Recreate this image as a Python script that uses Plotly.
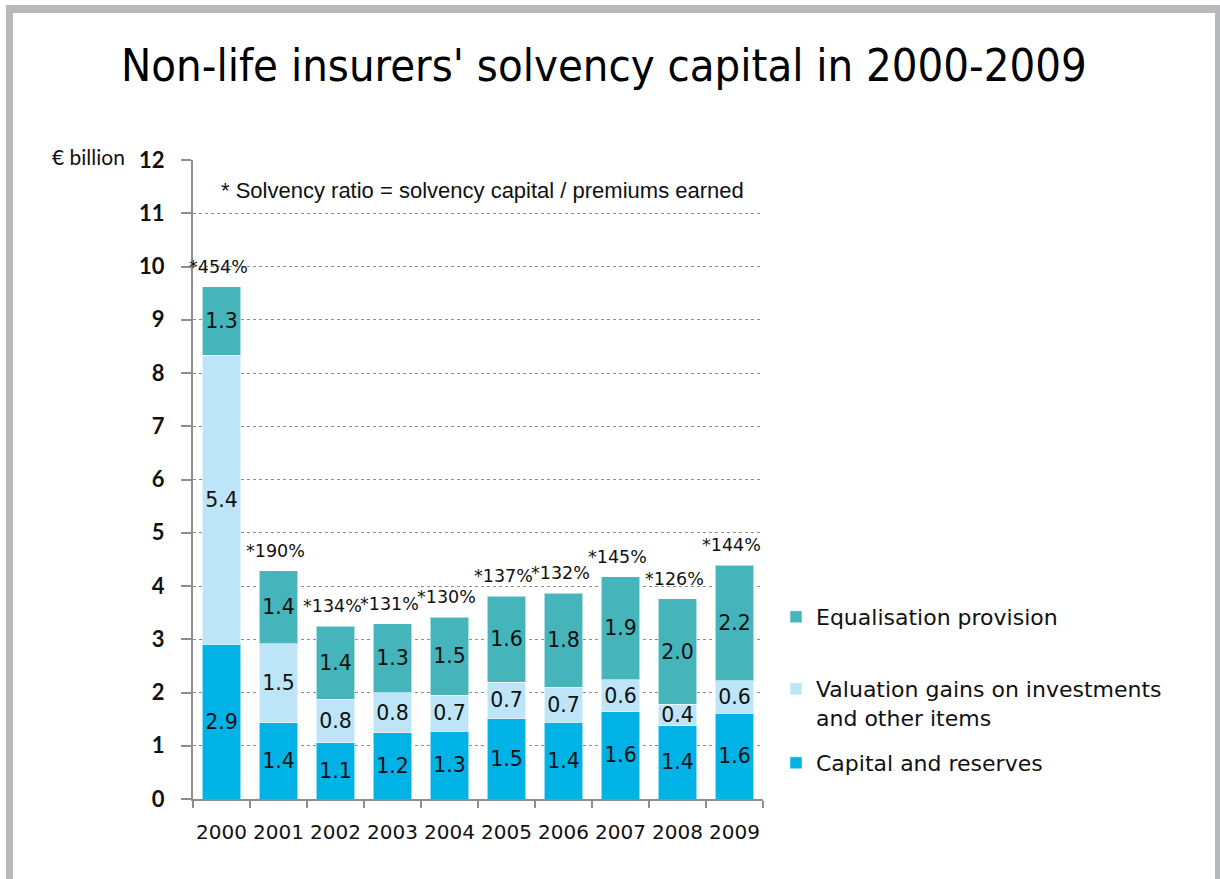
import plotly.graph_objects as go

years = ["2000", "2001", "2002", "2003", "2004", "2005", "2006", "2007", "2008", "2009"]
capital_reserves = [2.91, 1.43, 1.06, 1.24, 1.27, 1.51, 1.44, 1.64, 1.38, 1.61]
valuation_gains = [5.42, 1.49, 0.81, 0.76, 0.68, 0.68, 0.66, 0.60, 0.40, 0.61]
equalisation = [1.29, 1.37, 1.37, 1.29, 1.46, 1.62, 1.76, 1.93, 1.98, 2.17]
solvency_ratio = [454, 190, 134, 131, 130, 137, 132, 145, 126, 144]
y_ticks = list(range(0, 13))

C_CAP = "#00B2E6"
C_VAL = "#BDE5F7"
C_EQ = "#45B5BB"

W, H = 1220, 879
L, R, T, B = 193, 763, 160, 799  # plot area in px


def px(x):
    return (x - L) / (R - L)


def py(y):
    return (B - y) / (B - T)


fig = go.Figure()
common = dict(
    texttemplate="%{y:.1f}",
    textposition="inside",
    insidetextanchor="middle",
    textangle=0,
    textfont=dict(family="DejaVu Sans", size=20.5, color="#111111"),
    marker_line=dict(color="rgba(255,255,255,0.55)", width=1),
    hoverinfo="skip",
)
fig.add_trace(go.Bar(x=years, y=capital_reserves, name="Capital and reserves",
                     marker_color=C_CAP, legend="legend3", **common))
fig.add_trace(go.Bar(x=years, y=valuation_gains,
                     name="Valuation gains on investments<br>and other items",
                     marker_color=C_VAL, legend="legend2", **common))
fig.add_trace(go.Bar(x=years, y=equalisation, name="Equalisation provision",
                     marker_color=C_EQ, legend="legend", **common))

totals = [a + b + c for a, b, c in zip(capital_reserves, valuation_gains, equalisation)]
annotations = []
for i, (tot, r) in enumerate(zip(totals, solvency_ratio)):
    annotations.append(dict(x=i, y=tot, xref="x", yref="y", text=f"*{r}%",
                            showarrow=False, yanchor="bottom", yshift=8, xshift=-3,
                            font=dict(family="DejaVu Sans", size=17.5, color="#111111")))

annotations.append(dict(x=px(219), y=py(190), xref="paper", yref="paper",
                        text="* Solvency ratio = solvency capital / premiums earned",
                        showarrow=False, xanchor="left", yanchor="middle",
                        font=dict(family="Liberation Sans", size=22, color="#111111")))
annotations.append(dict(x=px(127), y=py(157), xref="paper", yref="paper",
                        text="€ billion", showarrow=False, xanchor="right", yanchor="middle",
                        font=dict(family="Lato", size=21, color="#111111")))

frame_col = "#B8B9BD"
shapes = [
    dict(type="rect", xref="paper", yref="paper", x0=px(6), x1=px(1220), y0=py(5), y1=py(13),
         fillcolor=frame_col, line_width=0, layer="below"),
    dict(type="rect", xref="paper", yref="paper", x0=px(6), x1=px(13), y0=py(5), y1=py(879),
         fillcolor=frame_col, line_width=0, layer="below"),
    dict(type="rect", xref="paper", yref="paper", x0=px(1215), x1=px(1220), y0=py(5), y1=py(879),
         fillcolor=frame_col, line_width=0, layer="below"),
]

leg_font = dict(family="DejaVu Sans", size=22, color="#111111")
leg_x = px(776)

fig.update_layout(
    width=W, height=H,
    margin=dict(l=L, r=W - R, t=T, b=H - B, pad=0),
    paper_bgcolor="white", plot_bgcolor="white",
    barmode="stack", bargap=0.333,
    title=dict(text="Non-life insurers' solvency capital in 2000-2009",
               x=0.495, xanchor="center", y=1 - 65 / H, yanchor="middle",
               font=dict(family="DejaVu Sans Condensed", size=45, color="#000000", weight=300)),
    uniformtext=dict(minsize=20.5, mode="show"),
    showlegend=True,
    legend=dict(x=leg_x, y=py(617), xanchor="left", yanchor="middle", font=leg_font,
                bgcolor="rgba(0,0,0,0)", itemwidth=30, valign="top"),
    legend2=dict(x=leg_x, y=py(703.5), xanchor="left", yanchor="middle", font=leg_font,
                 bgcolor="rgba(0,0,0,0)", itemwidth=30, valign="top"),
    legend3=dict(x=leg_x, y=py(763), xanchor="left", yanchor="middle", font=leg_font,
                 bgcolor="rgba(0,0,0,0)", itemwidth=30, valign="top"),
    annotations=annotations,
    shapes=shapes,
    xaxis=dict(type="category", range=[-0.5, len(years) - 0.5], autorange=False,
               showline=True, linecolor="#8E8E8E", linewidth=2,
               ticks="outside", tickson="boundaries", ticklen=7, tickcolor="#8E8E8E",
               tickwidth=1.5, showgrid=False, tickangle=0,
               tickfont=dict(family="DejaVu Sans", size=20, color="#111111"),
               ticklabelstandoff=14),
    yaxis=dict(range=[0, 12], autorange=False, tickvals=y_ticks, showline=True,
               linecolor="#8E8E8E",
               linewidth=2, ticks="outside", ticklen=10, tickcolor="#8E8E8E", tickwidth=1.5,
               showgrid=True, gridcolor="#8C8C8C", griddash="dot", gridwidth=1,
               zeroline=False,
               tickfont=dict(family="Lato", size=22, color="#111111", weight="bold"),
               ticklabelstandoff=12),
)

fig.write_html("out.html")
